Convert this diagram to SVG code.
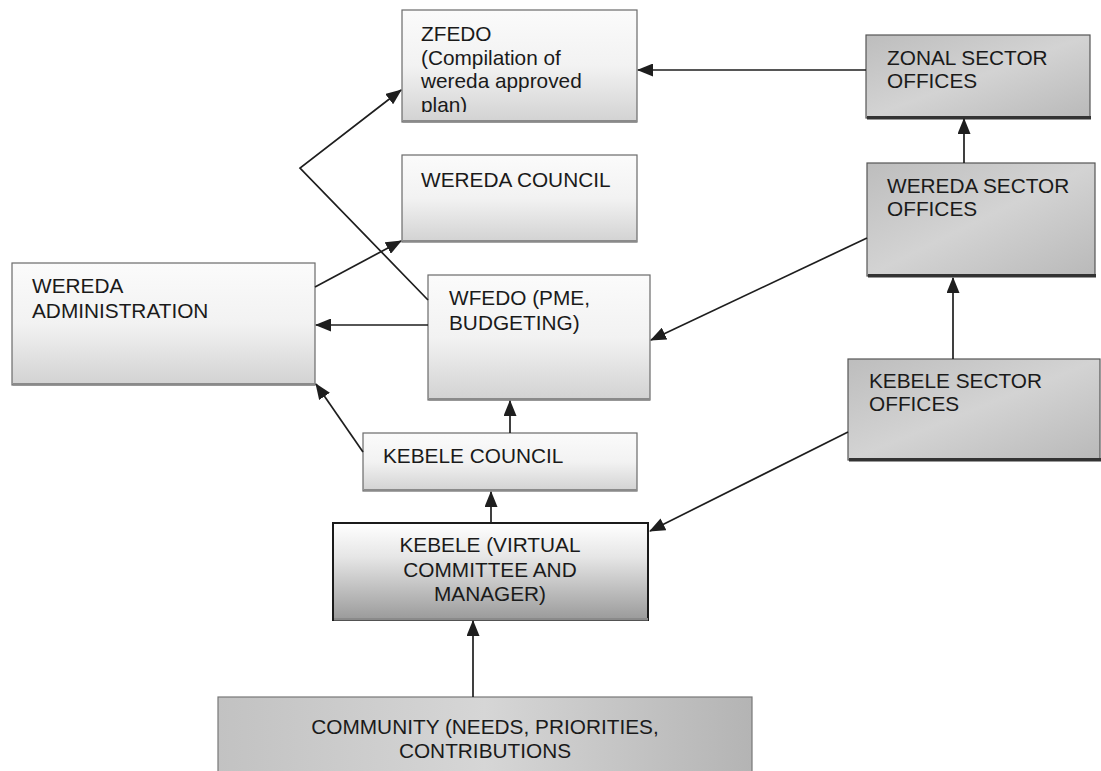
<svg xmlns="http://www.w3.org/2000/svg" width="1101" height="771" viewBox="0 0 1101 771">
<style>
text{font-family:"Liberation Sans",Arial,sans-serif;font-size:20.8px;fill:#1a1a1a}
.light{fill:url(#gLight);stroke:#6a6a6a;stroke-width:1.2}
.sector{fill:url(#gSector);stroke:#555;stroke-width:1.2}
.shadow{fill:#333}
.lshadow{fill:#8a8a8a}
.conn{fill:none;stroke:#1e1e1e;stroke-width:1.7;marker-end:url(#arr)}
</style>
<defs>
<linearGradient id="gLight" x1="0" y1="0" x2="0" y2="1">
<stop offset="0" stop-color="#fbfbfb"/><stop offset="0.5" stop-color="#f2f2f2"/><stop offset="1" stop-color="#d2d2d2"/>
</linearGradient>
<linearGradient id="gSector" x1="0" y1="0" x2="1" y2="1">
<stop offset="0" stop-color="#bdbdbd"/><stop offset="0.5" stop-color="#d3d3d3"/><stop offset="1" stop-color="#b9b9b9"/>
</linearGradient>
<linearGradient id="gKebele" x1="0" y1="0" x2="0" y2="1">
<stop offset="0" stop-color="#ffffff"/><stop offset="0.35" stop-color="#e6e6e6"/><stop offset="1" stop-color="#9a9a9a"/>
</linearGradient>
<linearGradient id="gComm" x1="0" y1="0" x2="1" y2="0">
<stop offset="0" stop-color="#c2c2c2"/><stop offset="0.5" stop-color="#d6d6d6"/><stop offset="1" stop-color="#b4b4b4"/>
</linearGradient>
<clipPath id="clipZ"><rect x="402" y="10" width="235" height="102"/></clipPath>
<marker id="arr" markerUnits="userSpaceOnUse" markerWidth="16" markerHeight="13" refX="15" refY="6.5" orient="auto">
<path d="M0,0 L16,6.5 L0,13 z" fill="#1e1e1e"/>
</marker>
</defs>
<rect width="1101" height="771" fill="#ffffff"/>

<g id="zfedo">
<rect class="light" x="402" y="10" width="235" height="112"/>
<rect class="lshadow" x="403" y="120" width="234" height="2.5"/>
<g clip-path="url(#clipZ)">
<text x="421" y="41">ZFEDO</text>
<text x="421" y="64.5">(Compilation of</text>
<text x="421" y="88">wereda approved</text>
<text x="421" y="111.5">plan)</text>
</g>
</g>

<g id="wereda-council">
<rect class="light" x="402" y="155" width="235" height="87"/>
<rect class="lshadow" x="403" y="240" width="234" height="2"/>
<text x="421" y="187">WEREDA COUNCIL</text>
</g>

<g id="wereda-administration">
<rect class="light" x="12" y="263" width="303" height="122"/>
<rect class="lshadow" x="13" y="383" width="302" height="2.5"/>
<text x="32" y="293">WEREDA</text>
<text x="32" y="318">ADMINISTRATION</text>
</g>

<g id="wfedo">
<rect class="light" x="428" y="275" width="222" height="125"/>
<rect class="lshadow" x="429" y="398" width="221" height="2.5"/>
<text x="449" y="305">WFEDO (PME,</text>
<text x="449" y="330">BUDGETING)</text>
</g>

<g id="kebele-council">
<rect class="light" x="363" y="433" width="274" height="58"/>
<rect class="lshadow" x="364" y="489" width="273" height="2"/>
<text x="383" y="463">KEBELE COUNCIL</text>
</g>

<g id="kebele">
<rect x="333" y="523" width="315" height="97" fill="url(#gKebele)" stroke="#1a1a1a" stroke-width="2"/>
<rect class="lshadow" x="334" y="618" width="314" height="2.5"/>
<text x="490" y="552" text-anchor="middle">KEBELE (VIRTUAL</text>
<text x="490" y="577" text-anchor="middle">COMMITTEE AND</text>
<text x="490" y="601" text-anchor="middle">MANAGER)</text>
</g>

<g id="community">
<rect x="218" y="697" width="534" height="80" fill="url(#gComm)" stroke="#777" stroke-width="1.2"/>
<text x="485" y="734" text-anchor="middle">COMMUNITY (NEEDS, PRIORITIES,</text>
<text x="485" y="758" text-anchor="middle">CONTRIBUTIONS</text>
</g>

<g id="zonal-sector-offices">
<rect class="sector" x="866" y="35" width="224" height="83"/>
<rect class="shadow" x="867" y="116" width="224" height="3.5"/>
<text x="887" y="65">ZONAL SECTOR</text>
<text x="887" y="88">OFFICES</text>
</g>

<g id="wereda-sector-offices">
<rect class="sector" x="867" y="163" width="228" height="113"/>
<rect class="shadow" x="868" y="274" width="228" height="3.5"/>
<text x="887" y="193">WEREDA SECTOR</text>
<text x="887" y="216">OFFICES</text>
</g>

<g id="kebele-sector-offices">
<rect class="sector" x="848" y="359" width="252" height="101"/>
<rect class="shadow" x="849" y="458" width="252" height="3.5"/>
<text x="869" y="388">KEBELE SECTOR</text>
<text x="869" y="411">OFFICES</text>
</g>

<g id="connectors">
<path class="conn" d="M866,70 L638,70"/>
<path class="conn" d="M964,163 L964,119"/>
<path class="conn" d="M953,359 L953,278"/>
<path class="conn" d="M867,238 L651,340"/>
<path class="conn" d="M848,432 L650,531"/>
<path class="conn" d="M428,325 L316,325"/>
<path class="conn" d="M315,287 L401,241"/>
<path class="conn" d="M428,300 L300,168 L401,90"/>
<path class="conn" d="M363,452 L316,384"/>
<path class="conn" d="M510,433 L510,401"/>
<path class="conn" d="M491,523 L491,492"/>
<path class="conn" d="M473,697 L473,621"/>
</g>
</svg>
